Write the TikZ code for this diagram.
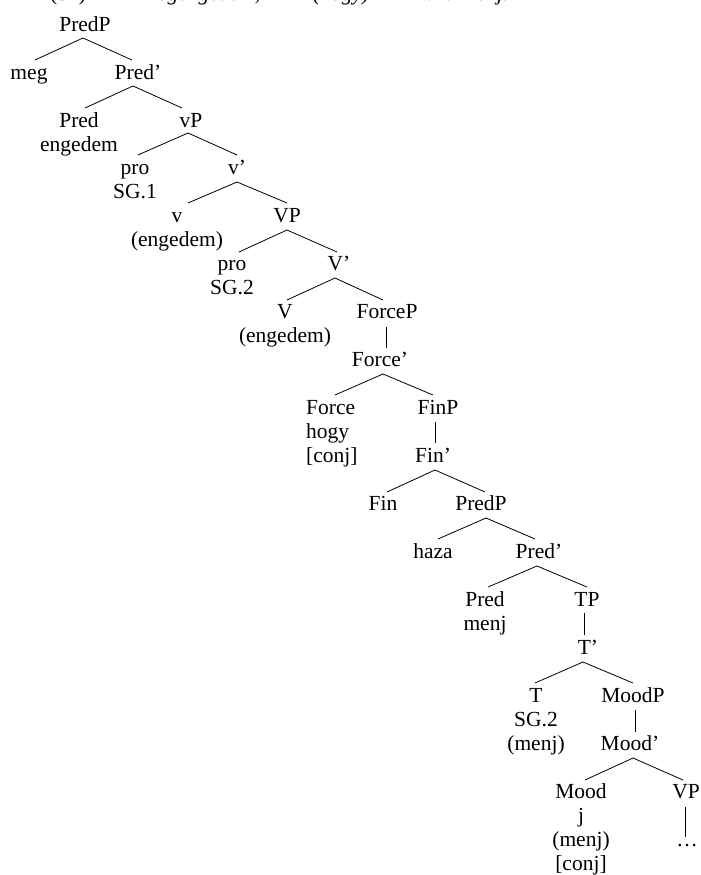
\documentclass[tikz,border=0pt]{standalone}
\usepackage{fontspec}
\setmainfont{Liberation Serif}
\newcommand\cstack[1]{\vtop{\halign{\hfil##\hfil\cr#1\crcr}}}
\newcommand\lstack[1]{\vtop{\halign{##\hfil\cr#1\crcr}}}
\begin{document}
\begin{tikzpicture}[x=1pt,y=-1pt,
  every node/.style={font=\fontsize{21.5}{24}\selectfont, inner sep=0pt, anchor=base},
  ln/.style={line width=0.8pt},
  ex/.style={anchor=base west, font=\fontsize{21.5}{24}\selectfont\itshape}]
\useasboundingbox (0,0) rectangle (701,875);
\clip (0,0) rectangle (701,875);
% cut-off example line
\node[anchor=base west] (num) at (50,1) {(31)};
\node[ex] (w1) at (140,1) {Megengedem,};
\node[ex] (w2) at (313,1) {(hogy)};
\node[ex] (w3) at (415,1) {haza menj.};
% tree
\node (n1) at (85,32) {PredP};
\node (n2) at (29,80) {meg};
\node (n3) at (138,80) {Pred’};
\node (n4) at (79,127) {\cstack{Pred\cr engedem}};
\node (n5) at (191,127) {vP};
\node (n6) at (135,174) {\cstack{pro\cr SG.1}};
\node (n7) at (237,174) {v’};
\node (n8) at (177,222) {\cstack{v\cr (engedem)}};
\node (n9) at (287,222) {VP};
\node (n10) at (232,270) {\cstack{pro\cr SG.2}};
\node (n11) at (339,270) {V’};
\node (n12) at (285,318) {\cstack{V\cr (engedem)}};
\node (n13) at (387,318) {ForceP};
\node (n14) at (380,366) {Force’};
\node[anchor=base west] (n15) at (306,414) {\lstack{Force\cr hogy\cr [conj]}};
\node (n16) at (438,414) {FinP};
\node (n17) at (433,462) {Fin’};
\node (n18) at (383,510) {Fin};
\node (n19) at (481,510) {PredP};
\node (n20) at (433,558) {haza};
\node (n21) at (539,558) {Pred’};
\node (n22) at (485,606) {\cstack{Pred\cr menj}};
\node (n23) at (587,606) {TP};
\node (n24) at (588,654) {T’};
\node (n25) at (536,702) {\cstack{T\cr SG.2\cr (menj)}};
\node (n26) at (633,702) {MoodP};
\node (n27) at (630,750) {Mood’};
\node (n28) at (581,798) {\cstack{Mood\cr j\cr (menj)\cr [conj]}};
\node (n29) at (686,798) {VP};
\node (n30) at (687,846) {…};
% branches
\draw[ln] ([shift={(6,-20)}]n2.base) -- ([shift={(-2,6)}]n1.base) -- ([shift={(-6,-20)}]n3.base);
\draw[ln] ([shift={(6,-19)}]n4.base) -- ([shift={(-5,6)}]n3.base) -- ([shift={(-9,-19)}]n5.base);
\draw[ln] ([shift={(3,-19)}]n6.base) -- ([shift={(-3,6)}]n5.base) -- ([shift={(0,-19)}]n7.base);
\draw[ln] ([shift={(11,-19)}]n8.base) -- ([shift={(0,8)}]n7.base) -- ([shift={(0,-19)}]n9.base);
\draw[ln] ([shift={(7,-18)}]n10.base) -- ([shift={(0,8)}]n9.base) -- ([shift={(-2,-18)}]n11.base);
\draw[ln] ([shift={(2,-18)}]n12.base) -- ([shift={(-4,8)}]n11.base) -- ([shift={(-4,-18)}]n13.base);
\draw[ln] ([shift={(-1,9)}]n13.base) -- ([shift={(6,-18)}]n14.base);
\draw[ln] ([shift={(29,-19)}]n15.base west) -- ([shift={(3,8)}]n14.base) -- ([shift={(-5,-19)}]n16.base);
\draw[ln] ([shift={(-3,8)}]n16.base) -- ([shift={(2,-19)}]n17.base);
\draw[ln] ([shift={(4,-18)}]n18.base) -- ([shift={(2,8)}]n17.base) -- ([shift={(4,-18)}]n19.base);
\draw[ln] ([shift={(5,-19)}]n20.base) -- ([shift={(5,8)}]n19.base) -- ([shift={(-4,-19)}]n21.base);
\draw[ln] ([shift={(3,-19)}]n22.base) -- ([shift={(-2,8)}]n21.base) -- ([shift={(0,-19)}]n23.base);
\draw[ln] ([shift={(-3,7)}]n23.base) -- ([shift={(-4,-19)}]n24.base);
\draw[ln] ([shift={(-1,-19)}]n25.base) -- ([shift={(-5,8)}]n24.base) -- ([shift={(0,-19)}]n26.base);
\draw[ln] ([shift={(2,8)}]n26.base) -- ([shift={(5,-18)}]n27.base);
\draw[ln] ([shift={(4,-18)}]n28.base) -- ([shift={(3,8)}]n27.base) -- ([shift={(-3,-18)}]n29.base);
\draw[ln] ([shift={(-1,9)}]n29.base) -- ([shift={(-2,-9)}]n30.base);
\end{tikzpicture}
\end{document}
